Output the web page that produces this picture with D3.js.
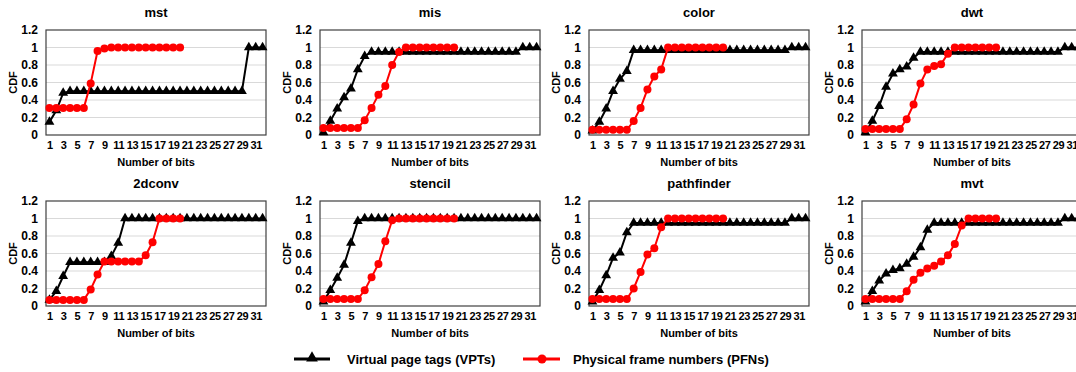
<!DOCTYPE html>
<html>
<head>
<meta charset="utf-8">
<script src="https://cdn.jsdelivr.net/npm/d3@7"></script>
<style>
  body { margin: 0; background: #fff; }
  svg { display: block; font-family: "Liberation Sans", Arial, sans-serif; font-weight: bold; }
</style>
</head>
<body>
<script>
// ----- data -----
const bits = [1,2,3,4,5,6,7,8,9,10,11,12,13,14,15,16,17,18,19,20,21,22,23,24,25,26,27,28,29,30,31,32];
const tickBits = [1,3,5,7,9,11,13,15,17,19,21,23,25,27,29,31];
const yTicks = [0, 0.2, 0.4, 0.6, 0.8, 1, 1.2];

const titles = ["mst", "mis", "color", "dwt", "2dconv", "stencil", "pathfinder", "mvt"];

const mstVPT = [0.15,0.28,0.48,0.5,0.5,0.5,0.5,0.5,0.5,0.5,0.5,0.5,0.5,0.5,0.5,0.5,0.5,0.5,0.5,0.5,0.5,0.5,0.5,0.5,0.5,0.5,0.5,0.5,0.5,1,1,1];
const mstPFN = [0.31,0.31,0.31,0.31,0.31,0.31,0.59,0.96,0.99,1,1,1,1,1,1,1,1,1,1,1];

const misVPT = [0.03,0.16,0.3,0.43,0.53,0.75,0.9,0.95,0.95,0.95,0.95,0.95,0.95,0.95,0.95,0.95,0.95,0.95,0.95,0.95,0.95,0.95,0.95,0.95,0.95,0.95,0.95,0.95,0.95,1,1,1];
const misPFN = [0.08,0.08,0.08,0.08,0.08,0.08,0.17,0.31,0.46,0.56,0.8,0.95,1,1,1,1,1,1,1,1];

const colorVPT = [0.05,0.15,0.3,0.5,0.64,0.73,0.97,0.97,0.97,0.97,0.97,0.97,0.97,0.97,0.97,0.97,0.97,0.97,0.97,0.97,0.97,0.97,0.97,0.97,0.97,0.97,0.97,0.97,0.97,1,1,1];
const colorPFN = [0.06,0.06,0.06,0.06,0.06,0.06,0.16,0.31,0.52,0.67,0.75,1,1,1,1,1,1,1,1,1];

const dwtVPT = [0.03,0.16,0.33,0.55,0.7,0.75,0.78,0.88,0.95,0.95,0.95,0.95,0.95,0.95,0.95,0.95,0.95,0.95,0.95,0.95,0.95,0.95,0.95,0.95,0.95,0.95,0.95,0.95,0.95,1,1,1];
const dwtPFN = [0.07,0.07,0.07,0.07,0.07,0.07,0.18,0.35,0.59,0.75,0.79,0.81,0.93,1,1,1,1,1,1,1];

const conv2dVPT = [0.07,0.17,0.34,0.5,0.5,0.5,0.5,0.5,0.5,0.57,0.72,1,1,1,1,1,1,1,1,1,1,1,1,1,1,1,1,1,1,1,1,1];
const conv2dPFN = [0.07,0.07,0.07,0.07,0.07,0.07,0.19,0.36,0.51,0.51,0.51,0.51,0.51,0.51,0.58,0.73,1,1,1,1];

const stencilVPT = [0.05,0.18,0.32,0.47,0.72,0.97,1,1,1,1,1,1,1,1,1,1,1,1,1,1,1,1,1,1,1,1,1,1,1,1,1,1];
const stencilPFN = [0.08,0.08,0.08,0.08,0.08,0.08,0.18,0.33,0.48,0.74,0.98,1,1,1,1,1,1,1,1,1];

const pathfinderVPT = [0.05,0.18,0.35,0.55,0.61,0.84,0.95,0.95,0.95,0.95,0.95,0.95,0.95,0.95,0.95,0.95,0.95,0.95,0.95,0.95,0.95,0.95,0.95,0.95,0.95,0.95,0.95,0.95,0.95,1,1,1];
const pathfinderPFN = [0.08,0.08,0.08,0.08,0.08,0.08,0.2,0.39,0.59,0.66,0.9,1,1,1,1,1,1,1,1,1];

const mvtVPT = [0.05,0.17,0.29,0.37,0.41,0.43,0.48,0.56,0.67,0.87,0.95,0.95,0.95,0.95,0.95,0.95,0.95,0.95,0.95,0.95,0.95,0.95,0.95,0.95,0.95,0.95,0.95,0.95,0.95,1,1,1];
const mvtPFN = [0.08,0.08,0.08,0.08,0.08,0.08,0.17,0.3,0.38,0.43,0.46,0.51,0.58,0.71,0.92,1,1,1,1,1];

const vptSeries = [mstVPT, misVPT, colorVPT, dwtVPT, conv2dVPT, stencilVPT, pathfinderVPT, mvtVPT];
const pfnSeries = [mstPFN, misPFN, colorPFN, dwtPFN, conv2dPFN, stencilPFN, pathfinderPFN, mvtPFN];

// ----- layout -----
const width = 1076, height = 372;
const panelLefts = [46, 320, 589, 862];
const rowTops = [30, 201];
const plotW = 220, plotH = 105;

const svg = d3.select("body").append("svg")
    .attr("width", width)
    .attr("height", height);

const tri = d3.symbol().type(d3.symbolTriangle).size(42);

titles.forEach(function(title, i){
    const col = i % 4, row = Math.floor(i / 4);
    const g = svg.append("g")
        .attr("transform", "translate(" + panelLefts[col] + "," + rowTops[row] + ")");

    const x = d3.scalePoint().domain(bits).range([0, plotW]).padding(0.5);
    const y = d3.scaleLinear().domain([0, 1.2]).range([plotH, 0]);

    // gridlines
    g.selectAll(".grid")
        .data(yTicks.filter(d => d > 0 && d < 1.2))
        .enter().append("line")
        .attr("x1", 0).attr("x2", plotW)
        .attr("y1", d => y(d)).attr("y2", d => y(d))
        .attr("stroke", "#d9d9d9")
        .attr("stroke-width", 1);

    // y axis labels
    const yAxis = d3.axisLeft(y).tickValues(yTicks).tickSize(0).tickPadding(8)
        .tickFormat(d => d3.format("")(+d.toFixed(1)));
    g.append("g").call(yAxis)
        .call(a => a.select(".domain").remove())
        .selectAll("text")
        .style("font-size", "12px")
        .style("font-family", "Liberation Sans, Arial, sans-serif")
        .style("font-weight", "bold")
        .attr("fill", "#000");

    // x axis labels
    const xAxis = d3.axisBottom(x).tickValues(tickBits).tickSize(0).tickPadding(6);
    g.append("g")
        .attr("transform", "translate(0," + plotH + ")")
        .call(xAxis)
        .call(a => a.select(".domain").remove())
        .selectAll("text")
        .style("font-size", "11px")
        .style("font-family", "Liberation Sans, Arial, sans-serif")
        .style("font-weight", "bold")
        .style("letter-spacing", "-0.3px")
        .attr("fill", "#000");

    // plot border
    g.append("rect")
        .attr("x", 0).attr("y", 0)
        .attr("width", plotW).attr("height", plotH)
        .attr("fill", "none")
        .attr("stroke", "#404040")
        .attr("stroke-width", 1.2);

    // title + axis titles
    g.append("text")
        .attr("x", plotW / 2).attr("y", -13)
        .attr("text-anchor", "middle")
        .style("font-size", "13px")
        .text(title);

    g.append("text")
        .attr("x", plotW / 2).attr("y", plotH + 31)
        .attr("text-anchor", "middle")
        .style("font-size", "11px")
        .text("Number of bits");

    g.append("text")
        .attr("transform", "translate(-29," + (plotH / 2) + ") rotate(-90)")
        .attr("text-anchor", "middle")
        .style("font-size", "11px")
        .text("CDF");

    const line = d3.line()
        .x((d, j) => x(bits[j]))
        .y(d => y(d));

    // VPT series (black triangles)
    g.append("path")
        .datum(vptSeries[i])
        .attr("d", line)
        .attr("fill", "none")
        .attr("stroke", "#000")
        .attr("stroke-width", 2);

    g.selectAll(".vpt")
        .data(vptSeries[i])
        .enter().append("path")
        .attr("class", "vpt")
        .attr("d", tri)
        .attr("transform", (d, j) => "translate(" + x(bits[j]) + "," + y(d) + ")")
        .attr("fill", "#000");

    // PFN series (red circles)
    g.append("path")
        .datum(pfnSeries[i])
        .attr("d", line)
        .attr("fill", "none")
        .attr("stroke", "#ff0000")
        .attr("stroke-width", 2);

    g.selectAll(".pfn")
        .data(pfnSeries[i])
        .enter().append("circle")
        .attr("class", "pfn")
        .attr("cx", (d, j) => x(bits[j]))
        .attr("cy", d => y(d))
        .attr("r", 4)
        .attr("fill", "#ff0000");
});

// ----- legend -----
const legend = svg.append("g").attr("transform", "translate(0,359)");

legend.append("line")
    .attr("x1", 294).attr("x2", 330).attr("y1", 0).attr("y2", 0)
    .attr("stroke", "#000").attr("stroke-width", 3);
legend.append("path")
    .attr("d", d3.symbol().type(d3.symbolTriangle).size(60))
    .attr("transform", "translate(312,-1)")
    .attr("fill", "#000");
legend.append("text")
    .attr("x", 347).attr("y", 5)
    .style("font-size", "13px")
    .text("Virtual page tags (VPTs)");

legend.append("line")
    .attr("x1", 523).attr("x2", 560).attr("y1", 0).attr("y2", 0)
    .attr("stroke", "#ff0000").attr("stroke-width", 3);
legend.append("circle")
    .attr("cx", 542).attr("cy", 0).attr("r", 4.5)
    .attr("fill", "#ff0000");
legend.append("text")
    .attr("x", 573).attr("y", 5)
    .style("font-size", "13px")
    .text("Physical frame numbers (PFNs)");
</script>
</body>
</html>
